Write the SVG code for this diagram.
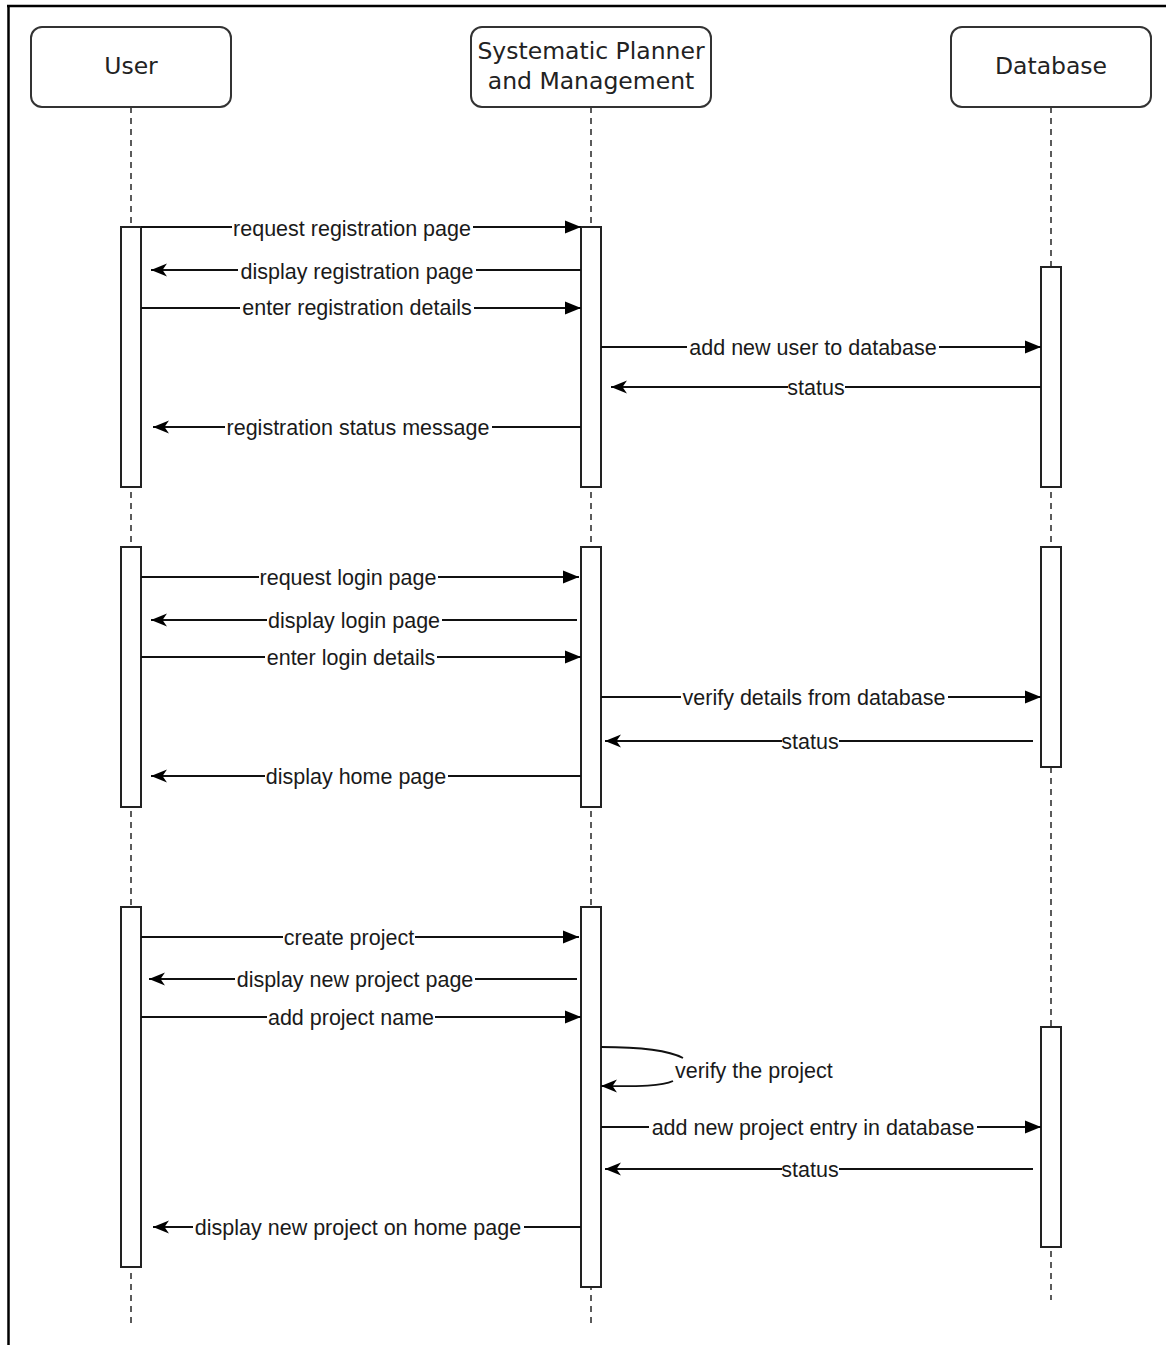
<svg xmlns="http://www.w3.org/2000/svg" width="1166" height="1345" viewBox="0 0 1166 1345">
<defs>
<style>
.hdr{fill:#fff;stroke:#333;stroke-width:2}
.htxt{font-family:"DejaVu Sans",Verdana,sans-serif;font-size:23.5px;fill:#222;text-anchor:middle}
.life{stroke:#333;stroke-width:1.6;stroke-dasharray:6 5;fill:none}
.act{fill:#fff;stroke:#222;stroke-width:2}
.msg{stroke:#111;stroke-width:1.8;fill:none}
.lbl{font-family:"Liberation Sans",Arial,sans-serif;font-size:21.5px;fill:#1a1a1a;text-anchor:middle}
.bg{fill:#fff}
</style>
<marker id="blk" markerUnits="userSpaceOnUse" markerWidth="17" markerHeight="14" refX="16" refY="7" orient="auto">
<path d="M0,0.5 L16,7 L0,13.5 z" fill="#000"/>
</marker>
<marker id="cls" markerUnits="userSpaceOnUse" markerWidth="17" markerHeight="14" refX="16" refY="7" orient="auto">
<path d="M0,0.5 L16,7 L0,13.5 L4.5,7 z" fill="#000"/>
</marker>
</defs>
<rect width="1166" height="1345" fill="#fff"/>
<g id="frame">
<line x1="7" y1="6" x2="1166" y2="6" stroke="#000" stroke-width="2.5"/>
<line x1="8.5" y1="5" x2="8.5" y2="1345" stroke="#000" stroke-width="2.5"/>
</g>
<g id="lifelines">
<line class="life" x1="131" y1="107" x2="131" y2="1325"/>
<line class="life" x1="591" y1="107" x2="591" y2="1325"/>
<line class="life" x1="1051" y1="107" x2="1051" y2="1300"/>
</g>
<g id="user">
<rect class="hdr" x="31" y="27" width="200" height="80" rx="11"/>
<text class="htxt" x="131" y="74">User</text>
</g>
<g id="system">
<rect class="hdr" x="471" y="27" width="240" height="80" rx="11"/>
<text class="htxt" x="591" y="59">Systematic Planner</text>
<text class="htxt" x="591" y="89">and Management</text>
</g>
<g id="database">
<rect class="hdr" x="951" y="27" width="200" height="80" rx="11"/>
<text class="htxt" x="1051" y="74">Database</text>
</g>
<g id="activations">
<rect class="act" x="121" y="227" width="20" height="260"/>
<rect class="act" x="581" y="227" width="20" height="260"/>
<rect class="act" x="1041" y="267" width="20" height="220"/>
<rect class="act" x="121" y="547" width="20" height="260"/>
<rect class="act" x="581" y="547" width="20" height="260"/>
<rect class="act" x="1041" y="547" width="20" height="220"/>
<rect class="act" x="121" y="907" width="20" height="360"/>
<rect class="act" x="581" y="907" width="20" height="380"/>
<rect class="act" x="1041" y="1027" width="20" height="220"/>
</g>
<g id="connectors">
<line class="msg" x1="141" y1="227" x2="581" y2="227" marker-end="url(#blk)"/>
<line class="msg" x1="581" y1="270" x2="151" y2="270" marker-end="url(#cls)"/>
<line class="msg" x1="141" y1="308" x2="581" y2="308" marker-end="url(#blk)"/>
<line class="msg" x1="601" y1="347" x2="1041" y2="347" marker-end="url(#blk)"/>
<line class="msg" x1="1041" y1="387" x2="611" y2="387" marker-end="url(#cls)"/>
<line class="msg" x1="581" y1="427" x2="153" y2="427" marker-end="url(#cls)"/>
<line class="msg" x1="141" y1="577" x2="579" y2="577" marker-end="url(#blk)"/>
<line class="msg" x1="577" y1="620" x2="151" y2="620" marker-end="url(#cls)"/>
<line class="msg" x1="141" y1="657" x2="581" y2="657" marker-end="url(#blk)"/>
<line class="msg" x1="601" y1="697" x2="1041" y2="697" marker-end="url(#blk)"/>
<line class="msg" x1="1033" y1="741" x2="605" y2="741" marker-end="url(#cls)"/>
<line class="msg" x1="581" y1="776" x2="151" y2="776" marker-end="url(#cls)"/>
<line class="msg" x1="141" y1="937" x2="579" y2="937" marker-end="url(#blk)"/>
<line class="msg" x1="577" y1="979" x2="149" y2="979" marker-end="url(#cls)"/>
<line class="msg" x1="141" y1="1017" x2="581" y2="1017" marker-end="url(#blk)"/>
<path class="msg" d="M601,1047 C640,1047 668,1050 683,1058"/>
<path class="msg" d="M673,1081 C660,1087 630,1086 601,1086" marker-end="url(#cls)"/>
<line class="msg" x1="601" y1="1127" x2="1041" y2="1127" marker-end="url(#blk)"/>
<line class="msg" x1="1033" y1="1169" x2="605" y2="1169" marker-end="url(#cls)"/>
<line class="msg" x1="581" y1="1227" x2="153" y2="1227" marker-end="url(#cls)"/>
</g>
<g id="labels">
<rect class="bg" x="232" y="216" width="241" height="24"/><text class="lbl" x="352" y="236">request registration page</text>
<rect class="bg" x="238" y="259" width="238" height="24"/><text class="lbl" x="357" y="279">display registration page</text>
<rect class="bg" x="240" y="297" width="234" height="24"/><text class="lbl" x="357" y="315">enter registration details</text>
<rect class="bg" x="687" y="336" width="252" height="24"/><text class="lbl" x="813" y="355">add new user to database</text>
<rect class="bg" x="788" y="376" width="57" height="24"/><text class="lbl" x="816" y="395">status</text>
<rect class="bg" x="225" y="416" width="267" height="24"/><text class="lbl" x="358" y="435">registration status message</text>
<rect class="bg" x="259" y="566" width="179" height="24"/><text class="lbl" x="348" y="585">request login page</text>
<rect class="bg" x="267" y="609" width="175" height="24"/><text class="lbl" x="354" y="628">display login page</text>
<rect class="bg" x="265" y="646" width="172" height="24"/><text class="lbl" x="351" y="665">enter login details</text>
<rect class="bg" x="681" y="686" width="267" height="24"/><text class="lbl" x="814" y="705">verify details from database</text>
<rect class="bg" x="782" y="730" width="57" height="24"/><text class="lbl" x="810" y="749">status</text>
<rect class="bg" x="265" y="765" width="183" height="24"/><text class="lbl" x="356" y="784">display home page</text>
<rect class="bg" x="283" y="926" width="132" height="24"/><text class="lbl" x="349" y="945">create project</text>
<rect class="bg" x="235" y="968" width="240" height="24"/><text class="lbl" x="355" y="987">display new project page</text>
<rect class="bg" x="267" y="1006" width="168" height="24"/><text class="lbl" x="351" y="1025">add project name</text>
<text class="lbl" x="675" y="1078" style="text-anchor:start">verify the project</text>
<rect class="bg" x="649" y="1116" width="328" height="24"/><text class="lbl" x="813" y="1135">add new project entry in database</text>
<rect class="bg" x="782" y="1158" width="57" height="24"/><text class="lbl" x="810" y="1177">status</text>
<rect class="bg" x="193" y="1216" width="331" height="24"/><text class="lbl" x="358" y="1235">display new project on home page</text>
</g>
</svg>
